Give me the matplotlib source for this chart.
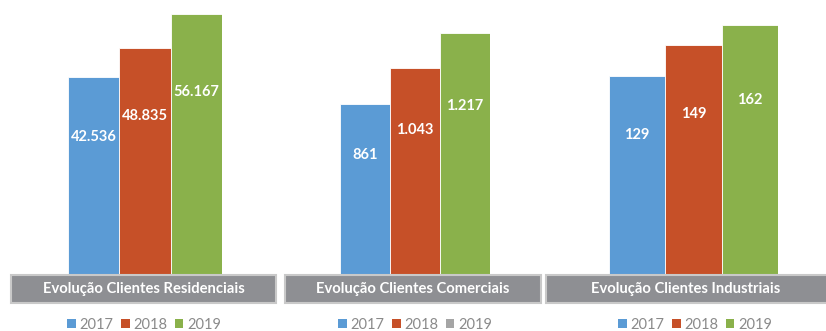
import matplotlib.pyplot as plt
from matplotlib.patches import Rectangle, Patch

# Data
years = ["2017", "2018", "2019"]
titles = ["Evolução Clientes Residenciais", "Evolução Clientes Comerciais", "Evolução Clientes Industriais"]
residenciais = [42536, 48835, 56167]
comerciais = [861, 1043, 1217]
industriais = [129, 149, 162]
value_labels = [["42.536", "48.835", "56.167"], ["861", "1.043", "1.217"], ["129", "149", "162"]]

colors = ["#5B9BD5", "#C65028", "#8AB14B"]
legend_colors = [colors, ["#5B9BD5", "#C65028", "#A5A5A5"], colors]

plt.rcParams['font.family'] = ['Lato', 'DejaVu Sans']

W, H = 826, 331
fig = plt.figure(figsize=(W / 100, H / 100), dpi=100)

def px_rect(x0, y0, x1, y1):
    # pixel box (top-left origin) -> figure fraction [left, bottom, width, height]
    return [x0 / W, 1 - y1 / H, (x1 - x0) / W, (y1 - y0) / H]

# bar group extents (px), y-axis max per panel, label box extents, legend centre
groups = [(68, 222), (340, 490), (609, 778)]
ymax = [59200, 1385, 178]
boxes = [(11, 276), (285, 541), (546, 830)]
legend_x = [144, 415, 695]
series = [residenciais, comerciais, industriais]

for i in range(3):
    ax = fig.add_axes(px_rect(groups[i][0], 0, groups[i][1], 275))
    ax.bar(range(3), series[i], width=1.0, color=colors, edgecolor="white", linewidth=0.6)
    ax.set_xlim(-0.5, 2.5)
    ax.set_ylim(0, ymax[i])
    ax.axis("off")
    for j, v in enumerate(series[i]):
        ax.text(j, v * 0.7, value_labels[i][j], ha="center", va="center",
                color="white", fontsize=10.5, fontweight="bold")

    # grey title box under each group
    b = px_rect(boxes[i][0], 275, boxes[i][1], 303)
    fig.patches.append(Rectangle((b[0], b[1]), b[2], b[3], transform=fig.transFigure,
                                 facecolor="#8E8F93", edgecolor="#C9C9C9", linewidth=1.5))
    fig.text((boxes[i][0] + min(boxes[i][1], W)) / 2 / W, 1 - 289 / H, titles[i],
             ha="center", va="center", color="white", fontsize=10.6, fontweight="bold")

    handles = [Patch(facecolor=c, edgecolor="none") for c in legend_colors[i]]
    fig.legend(handles, years, loc="center", bbox_to_anchor=(legend_x[i] / W, 1 - 325 / H),
               ncol=3, frameon=False, fontsize=10.5, labelcolor="#8A8A8A",
               handlelength=0.6, handleheight=0.6, handletextpad=0.25, columnspacing=0.5,
               borderpad=0.2)

fig.savefig("out.png", dpi=100)
